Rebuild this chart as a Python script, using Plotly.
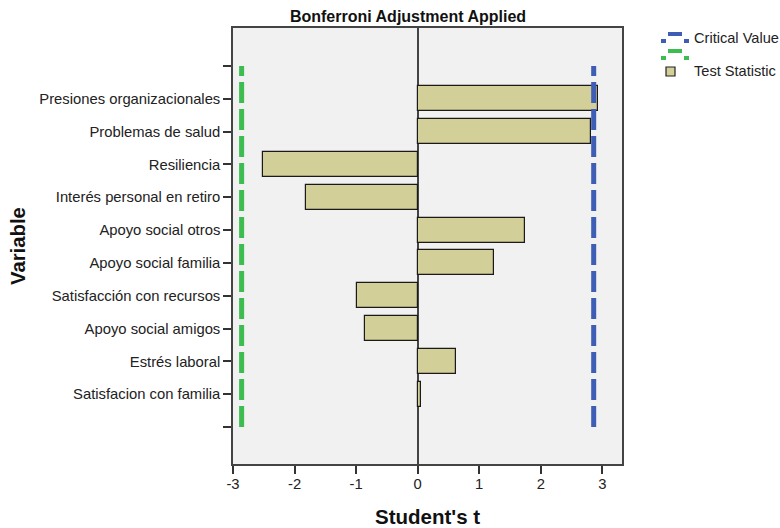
import plotly.graph_objects as go

# Variables tested and their t statistics
variables = [
    "Presiones organizacionales",
    "Problemas de salud",
    "Resiliencia",
    "Interés personal en retiro",
    "Apoyo social otros",
    "Apoyo social familia",
    "Satisfacción con recursos",
    "Apoyo social amigos",
    "Estrés laboral",
    "Satisfacion con familia",
]
test_statistic = [2.93, 2.81, -2.52, -1.82, 1.75, 1.24, -0.99, -0.85, 0.62, 0.05]
critical_value = 2.86
x_ticks = [-3, -2, -1, 0, 1, 2, 3]
x_tick_labels = ["-3", "-2", "-1", "0", "1", "2", "3"]

# Category slots: an empty slot above and below the variables
positions = list(range(1, len(variables) + 1))
tick_positions = [0] + positions + [len(variables) + 1]
tick_text = [""] + variables + [""]

FONT = "Liberation Sans, Arial, sans-serif"
BAR_FILL = "#d3cf98"
BLUE = "#3e5db5"
GREEN = "#3dbd4f"
TICK_SIZE = 14.8

W, H = 780, 528
L, R, T, B = 233, 158, 28, 64
PW, PH = W - L - R, H - T - B


def px(x):
    return (x - L) / PW


def py(y):
    return (H - B - y) / PH


fig = go.Figure()

fig.add_trace(go.Bar(
    x=test_statistic,
    y=positions,
    orientation="h",
    width=0.76,
    marker=dict(color=BAR_FILL, line=dict(color="#1a1a1a", width=1.2)),
    showlegend=False,
    name="Test Statistic",
))

# Critical value lines, drawn bottom to top so the dash pattern starts at the bottom
span = [tick_positions[-1], tick_positions[0]]
fig.add_trace(go.Scatter(
    x=[critical_value, critical_value], y=span, mode="lines",
    line=dict(color=BLUE, width=5, dash="21px,6px"),
    showlegend=False, name="Critical Value",
))
fig.add_trace(go.Scatter(
    x=[-critical_value, -critical_value], y=span, mode="lines",
    line=dict(color=GREEN, width=5, dash="21px,6px"),
    showlegend=False, name="Critical Value (lower)",
))

# Hand-drawn legend keys
shapes = []


def key_rect(x0, x1, y0, y1, fill, line_color=None, lw=0):
    shapes.append(dict(
        type="rect", xref="paper", yref="paper",
        x0=px(x0), x1=px(x1), y0=py(y1), y1=py(y0),
        fillcolor=fill, line=dict(color=line_color or fill, width=lw),
        layer="above",
    ))


for color, top in ((BLUE, 32), (GREEN, 49)):
    key_rect(661, 666, top + 7, top + 11, color)
    key_rect(668, 682, top, top + 4, color)
    key_rect(684, 689, top + 7, top + 11, color)
key_rect(666, 675, 67, 76, BAR_FILL, "#222222", 1.2)

annotations = [
    dict(text="Critical Value", x=px(692), y=py(38), xref="paper", yref="paper",
         xanchor="left", yanchor="middle", showarrow=False,
         font=dict(family=FONT, size=14.6, color="#222222")),
    dict(text="Test Statistic", x=px(692), y=py(71), xref="paper", yref="paper",
         xanchor="left", yanchor="middle", showarrow=False,
         font=dict(family=FONT, size=14.6, color="#222222")),
    dict(text="<b>Variable</b>", x=px(18), y=0.5, xref="paper", yref="paper",
         xanchor="center", yanchor="middle", textangle=-90, showarrow=False,
         font=dict(family=FONT, size=20.3, color="#111111")),
    dict(text="<b>Student's t</b>", x=0.5, y=py(516), xref="paper", yref="paper",
         xanchor="center", yanchor="middle", showarrow=False,
         font=dict(family=FONT, size=20.5, color="#111111")),
]

fig.update_layout(
    width=W, height=H,
    margin=dict(l=L, r=R, t=T, b=B, pad=0),
    paper_bgcolor="white",
    plot_bgcolor="#f0f1f0",
    font=dict(family=FONT, size=TICK_SIZE, color="#222222"),
    title=dict(text="<b>Bonferroni Adjustment Applied</b>", x=408 / W, y=1 - 16 / H,
               xanchor="center", yanchor="middle",
               font=dict(family=FONT, size=16, color="#111111")),
    shapes=shapes,
    annotations=annotations,
    bargap=0,
)

fig.update_xaxes(
    range=[-3, 3.32],
    tickvals=x_ticks,
    ticktext=x_tick_labels,
    ticks="outside", ticklen=8, tickwidth=1.5, tickcolor="#333333",
    ticklabelstandoff=-3,
    showgrid=False,
    zeroline=True, zerolinecolor="#444444", zerolinewidth=1.5,
    showline=True, linecolor="#444444", linewidth=1.5, mirror=True,
    tickfont=dict(family=FONT, size=TICK_SIZE, color="#222222"),
)
fig.update_yaxes(
    range=[12.13, -1.16],
    tickvals=tick_positions,
    ticktext=tick_text,
    ticks="outside", ticklen=8, tickwidth=1.5, tickcolor="#333333",
    showgrid=False, zeroline=False,
    showline=True, linecolor="#444444", linewidth=1.5, mirror=True,
    tickfont=dict(family=FONT, size=TICK_SIZE, color="#222222"),
)

fig.write_html("out.html")
